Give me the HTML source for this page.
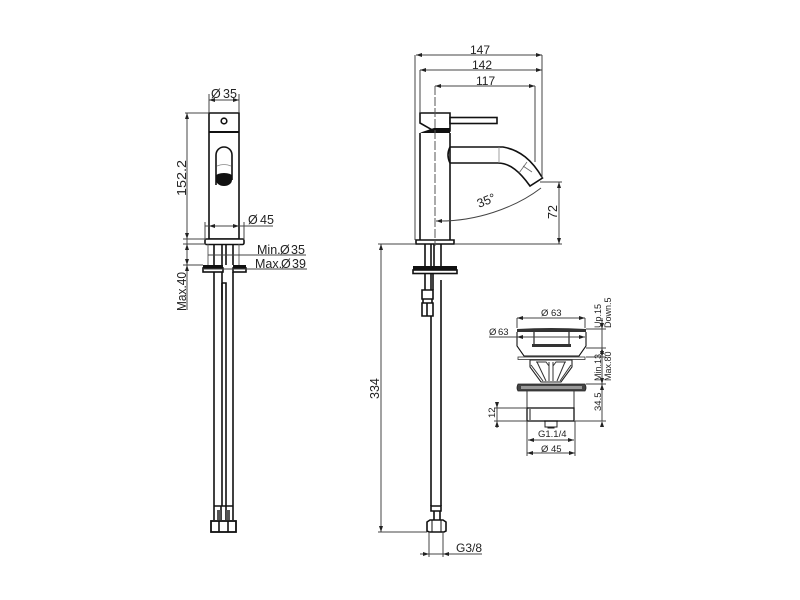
<!DOCTYPE html>
<html><head><meta charset="utf-8"><style>
html,body{margin:0;padding:0;background:#fff;width:800px;height:600px;overflow:hidden}
svg{display:block;filter:blur(.3px)}
text{font-family:"Liberation Sans",sans-serif;fill:#222}
.o{stroke:#111;stroke-width:1.6;fill:none}
.w{stroke:#111;stroke-width:1.6;fill:#fff}
.d{stroke:#444;stroke-width:1;fill:none}
.a{fill:#222;stroke:none}
</style></head><body>
<svg width="800" height="600" viewBox="0 0 800 600" xmlns="http://www.w3.org/2000/svg">
<defs>
<g id="r"><path class="a" d="M0 0l-6 -2v4z"/></g>
</defs>

<!-- LEFT VIEW -->
<g>
<path class="o" d="M209 113H239V239H209Z"/>
<path d="M209 132H239" stroke="#111" stroke-width="2"/>
<circle cx="224" cy="121" r="2.800" class="o"/>
<path class="o" d="M216 185V155a8 8 0 0 1 16 0V180"/>
<path d="M216 176a8 3 0 0 1 16 0v4a8 6 0 0 1-16 0z" fill="#111"/>
<path d="M217 166q7 -3 14 0" stroke="#888" stroke-width=".8" fill="none"/>
<rect class="w" x="205" y="239" width="39" height="5.500" rx="1.500"/>
<path class="o" d="M214 244V265M222 244V265M233 244V265M226 244V265" />
<path d="M208 244V265M239 244V265" stroke="#555" stroke-width=".9"/>
<rect x="203" y="265" width="20" height="4" fill="#111"/><rect class="w" x="203" y="268" width="20" height="4"/>
<rect x="233" y="265" width="13" height="4" fill="#111"/><rect class="w" x="233" y="268" width="13" height="4"/>
<path class="o" d="M214 272V506M222 272V506M233 272V506"/>
<path class="o" d="M222 283H226V506M222 283V300"/>
<path class="o" d="M214 506H233M214 506V520M233 506V520M221 506V520M226 506V520"/>
<path d="M217 510h4v10h-4zM226 510h4v10h-4z" fill="#555"/>
<rect class="o" x="211" y="521" width="25" height="11" style="stroke-width:1.800"/>
<path class="o" d="M219 521V532M228 521V532"/>

<!-- left dims -->
<path class="d" d="M209 100H239M209 94V113M239 94V113"/>
<use href="#r" transform="translate(209 100) rotate(180)"/><use href="#r" transform="translate(239 100)"/>
<text x="211" y="98" font-size="12.500">Ø<tspan x="223">35</tspan></text>
<path class="d" d="M185 113H209M187 113V310M183 239H206M183 244H206M183 265H203"/>
<use href="#r" transform="translate(187 113) rotate(-90)"/><use href="#r" transform="translate(187 239) rotate(90)"/>
<use href="#r" transform="translate(187 244) rotate(-90)"/><use href="#r" transform="translate(187 265) rotate(90)"/>
<use href="#r" transform="translate(187 265) rotate(-90)"/>
<text transform="translate(186 196) rotate(-90)" font-size="13" textLength="36" lengthAdjust="spacingAndGlyphs">152.2</text>
<text transform="translate(186 311) rotate(-90)" font-size="13" textLength="39" lengthAdjust="spacingAndGlyphs">Max.40</text>
<path class="d" d="M205 226H273M205 222V240M244 222V240"/>
<use href="#r" transform="translate(209 226) rotate(180)"/><use href="#r" transform="translate(239 226)"/>
<text x="248" y="224" font-size="12.500">Ø<tspan x="260">45</tspan></text>
<path class="d" d="M208 255H306"/>
<text x="257" y="254" font-size="12.500">Min.<tspan x="280">Ø</tspan><tspan x="291">35</tspan></text>
<path class="d" d="M203 269H307"/>
<text x="255" y="268" font-size="12.500">Max.<tspan x="281">Ø</tspan><tspan x="292">39</tspan></text>
</g>

<!-- SIDE VIEW -->
<g>
<path class="o" d="M420 133V240M450 133V240"/>
<path class="w" d="M420 113H450V131H434L420 123Z"/>
<path d="M422 132L434 128H450V133H420Z" fill="#111"/>
<rect class="w" x="450" y="117.500" width="47" height="6"/>
<path class="o" d="M450 147H503C520 150 532 160 542.500 178L530 186C520 172 510 163 498 163H450"/>
<path class="o" d="M450 147Q446 155 450 163" />
<path d="M499 147V163" stroke="#888" stroke-width=".8"/>
<path d="M523 166L532 172M527 162l-8 11" stroke="#666" stroke-width=".8" fill="none"/>
<path class="w" d="M416 240H454V244H416Z"/>
<path class="o" d="M425 244V266M431 244V266M441 244V266M434 244V266"/>
<rect x="413" y="266" width="44" height="5" fill="#111"/><rect class="w" x="413" y="270" width="44" height="3.500"/>
<path class="o" d="M425 273V290M431 273V506M441 280V506M433 273V290"/>
<path class="w" d="M422 290H433V299H422ZM423 299H432V303H423ZM422 303H433V316H422ZM427 303V316"/>
<path class="w" d="M431 506H441V511H431Z"/>
<path class="o" d="M434 511V520M440 511V520"/>
<path class="w" d="M427 522L430 520H443L446 522V531L444 532H429L427 531Z"/>
<path d="M432 520V532M441 520V532" stroke="#111" stroke-width="1"/>

<path class="d" d="M416 55H542M420 70H542M435 86H535"/>
<use href="#r" transform="translate(416 55) rotate(180)"/><use href="#r" transform="translate(542 55)"/>
<use href="#r" transform="translate(420 70) rotate(180)"/><use href="#r" transform="translate(542 70)"/>
<use href="#r" transform="translate(435 86) rotate(180)"/><use href="#r" transform="translate(535 86)"/>
<text x="470" y="54" font-size="12">147</text>
<text x="472" y="69" font-size="12">142</text>
<text x="476" y="85" font-size="12">117</text>
<path class="d" d="M415 55V240M420 70V113M542 55V178M535 86V162"/>
<path d="M435 86V246" stroke="#555" stroke-width="1" stroke-dasharray="9 2"/>
<path class="d" d="M436 221C475 222 515 208 541 188"/>
<use href="#r" transform="translate(436 221) rotate(180)"/>
<text transform="translate(479 208) rotate(-22)" font-size="12.500">35°</text>
<path class="d" d="M540 182H562M378 244H416M454 244H562M559 182V244"/>
<use href="#r" transform="translate(559 182) rotate(-90)"/><use href="#r" transform="translate(559 244) rotate(90)"/>
<text transform="translate(557 219) rotate(-90)" font-size="12.500">72</text>
<path class="d" d="M381 244V532M378 532H427"/>
<use href="#r" transform="translate(381 244) rotate(-90)"/><use href="#r" transform="translate(381 532) rotate(90)"/>
<text transform="translate(379 399) rotate(-90)" font-size="12.500">334</text>
<path class="d" d="M429 532V557M443 532V557M420 554H482"/>
<use href="#r" transform="translate(429 554)"/><use href="#r" transform="translate(443 554) rotate(180)"/>
<text x="456" y="552" font-size="12">G3/8</text>
</g>

<!-- DRAIN -->
<g>
<path class="d" d="M517 318H585M517 318V328M585 318V328"/>
<use href="#r" transform="translate(517 318) rotate(180)"/><use href="#r" transform="translate(585 318)"/>
<text x="541" y="316" font-size="9.500">Ø<tspan x="551">63</tspan></text>
<text x="489" y="335" font-size="9.500">Ø<tspan x="498">63</tspan></text>
<path d="M517 329Q551 327 586 329V332H517Z" fill="#333"/>
<path d="M517 332V346L524 356H579L586 346V332M534 332V345M569 332V345" fill="none" stroke="#111" stroke-width="1.100"/>
<path d="M532 344H571V347H532Z" fill="#333"/>
<path class="d" d="M489 337H585"/>
<use href="#r" transform="translate(517 337) rotate(180)"/><use href="#r" transform="translate(585 337)"/>
<rect x="518" y="357" width="67" height="2.500" fill="#fff" stroke="#333" stroke-width=".8"/>
<path d="M530 360H572V367L561 382H541L530 367Z" fill="#fff" stroke="#222" stroke-width="1.100"/>
<path d="M531 365L543 381M537 362L546 381M549 362V381M553 362V381M565 362L557 381M571 365L560 381M536 362H546L549 366M566 362H556L553 366" stroke="#333" stroke-width="1" fill="none"/>
<path d="M518 384H585Q587 388 585 391H518Q516 388 518 384Z" fill="#444" stroke="#222" stroke-width=".8"/>
<rect x="521" y="386" width="61" height="3" fill="#999"/>
<path d="M527 391V408H574V391" fill="none" stroke="#333" stroke-width="1"/>
<rect x="527" y="408" width="47" height="13" fill="#fff" stroke="#111" stroke-width="1.300"/>
<path d="M530 408V421" stroke="#666" stroke-width="1.500"/>
<path d="M545 421V427H557V421M548 427V428H554V427" fill="none" stroke="#222" stroke-width="1"/>
<path d="M544 421H558" stroke="#111" stroke-width="1.200"/>
<path class="d" d="M494 408H527M494 421H527M497 402V428"/>
<use href="#r" transform="translate(497 408) rotate(90)"/><use href="#r" transform="translate(497 421) rotate(-90)"/>
<text transform="translate(495 418) rotate(-90)" font-size="9.500">12</text>
<text x="538" y="437" font-size="9.500">G1.1/4</text>
<path class="d" d="M528 440H574M527 421V456M575 421V456M527 453H575"/>
<use href="#r" transform="translate(528 440) rotate(180)"/><use href="#r" transform="translate(574 440)"/>
<use href="#r" transform="translate(527 453) rotate(180)"/><use href="#r" transform="translate(575 453)"/>
<text x="541" y="452" font-size="9.500">Ø<tspan x="551">45</tspan></text>

<path class="d" d="M586 329H606M586 348H606M586 357H606M586 384H606M575 421H606M602 318V421"/>
<use href="#r" transform="translate(602 329) rotate(90)"/><use href="#r" transform="translate(602 348) rotate(-90)"/>
<use href="#r" transform="translate(602 357) rotate(90)"/><use href="#r" transform="translate(602 384) rotate(-90)"/>
<use href="#r" transform="translate(602 384) rotate(90)"/><use href="#r" transform="translate(602 421) rotate(-90)"/>
<text transform="translate(601 328) rotate(-90)" font-size="9">Up.15</text>
<text transform="translate(611 328) rotate(-90)" font-size="9">Down.5</text>
<text transform="translate(601 381) rotate(-90)" font-size="9">Min.13</text>
<text transform="translate(611 381) rotate(-90)" font-size="9">Max.80</text>
<text transform="translate(601 411) rotate(-90)" font-size="9.500">34.5</text>
</g>
</svg>
</body></html>
